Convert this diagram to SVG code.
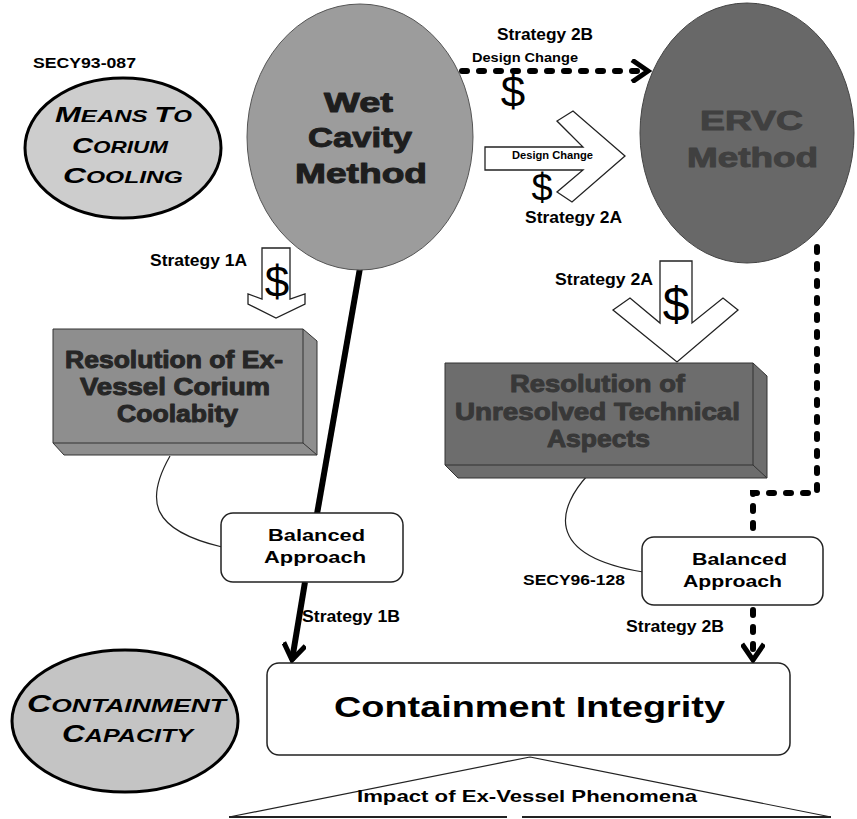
<svg xmlns="http://www.w3.org/2000/svg" width="857" height="819" viewBox="0 0 857 819">
<style>
text{font-family:"Liberation Sans",Arial,sans-serif;font-weight:bold;fill:#000}
.lbl{font-size:16px}
.sm{font-size:14px}
.dol{font-weight:normal;text-anchor:middle}
.caps{font-style:italic}
.heavy{stroke-width:1;stroke-linejoin:round}
.box{fill:#fff;stroke:#222;stroke-width:1.5}
.thin{fill:none;stroke:#222;stroke-width:1.2}
.solid{fill:none;stroke:#000;stroke-width:6}
.dash{fill:none;stroke:#000;stroke-width:6;stroke-linecap:round;stroke-dasharray:5 12}
.blk{fill:#fff;stroke:#222;stroke-width:1.3;stroke-linejoin:miter}
</style>
<defs>
<marker id="chev" viewBox="0 0 24 24" refX="20" refY="12" markerWidth="24" markerHeight="24" markerUnits="userSpaceOnUse" orient="auto">
<path d="M4,1 L20,12 L4,23" fill="none" stroke="#000" stroke-width="5" stroke-linejoin="miter"/>
</marker>
</defs>

<g id="connectors">
<path class="solid" d="M360,268 L317,514"/>
<path class="solid" d="M305,582 L292,660" marker-end="url(#chev)"/>
<path class="dash" d="M462,71 L648,71" stroke-width="7" stroke-dasharray="6 19" marker-end="url(#chev)"/>
<path class="dash" d="M817,247 L817,493 L753,493 L753,537"/>
<path class="dash" d="M753,610 L753,660" marker-end="url(#chev)"/>
<path class="thin" d="M170,456 C145,500 150,530 222,547"/>
<path class="thin" d="M588,475 C560,505 540,555 643,572"/>
<path class="thin" d="M530,757 L229,817 M530,757 L831,817"/>
<path d="M229,817 L507,817 M522,817 L831,817" fill="none" stroke="#222" stroke-width="2"/>
</g>

<g id="secy93">
<text class="sm" x="33" y="68" textLength="103" lengthAdjust="spacingAndGlyphs">SECY93-087</text>
</g>

<g id="means">
<ellipse cx="123" cy="148" rx="98" ry="70" fill="#cdcdcd" stroke="#000" stroke-width="3"/>
<text class="caps" x="55" y="122" textLength="137" lengthAdjust="spacingAndGlyphs"><tspan font-size="22">M</tspan><tspan font-size="17">EANS </tspan><tspan font-size="22">T</tspan><tspan font-size="17">O</tspan></text>
<text class="caps" x="72" y="153" textLength="96" lengthAdjust="spacingAndGlyphs"><tspan font-size="22">C</tspan><tspan font-size="17">ORIUM</tspan></text>
<text class="caps" x="63" y="183" textLength="120" lengthAdjust="spacingAndGlyphs"><tspan font-size="22">C</tspan><tspan font-size="17">OOLING</tspan></text>
</g>

<g id="wet">
<ellipse cx="360" cy="137" rx="113" ry="133" fill="#9c9c9c" stroke="#555" stroke-width="1"/>
<g style="font-size:28px">
<text class="heavy" x="324" y="112" textLength="69" lengthAdjust="spacingAndGlyphs" style="fill:#1e1e1e;stroke:#1e1e1e">Wet</text>
<text class="heavy" x="308" y="147" textLength="104" lengthAdjust="spacingAndGlyphs" style="fill:#1e1e1e;stroke:#1e1e1e">Cavity</text>
<text class="heavy" x="295" y="183" textLength="132" lengthAdjust="spacingAndGlyphs" style="fill:#1e1e1e;stroke:#1e1e1e">Method</text>
</g>
</g>

<g id="ervc">
<ellipse cx="747" cy="133" rx="107" ry="130" fill="#686868" stroke="#444" stroke-width="1"/>
<g style="font-size:28px">
<text class="heavy" x="700" y="130" textLength="103" lengthAdjust="spacingAndGlyphs" style="fill:#404040;stroke:#404040">ERVC</text>
<text class="heavy" x="687" y="167" textLength="131" lengthAdjust="spacingAndGlyphs" style="fill:#404040;stroke:#404040">Method</text>
</g>
</g>

<g id="strategy2b-top">
<text class="lbl" x="497" y="40" textLength="96" lengthAdjust="spacingAndGlyphs">Strategy 2B</text>
<text x="472" y="62" font-size="13" textLength="106" lengthAdjust="spacingAndGlyphs">Design Change</text>
<text class="dol" x="513" y="107" font-size="44">$</text>
</g>

<g id="strategy2a-right">
<polygon class="blk" points="485,147 583,147 557,121 573,111 625,156 572,202 557,192 583,170 485,170"/>
<text x="512" y="159" font-size="11" textLength="81" lengthAdjust="spacingAndGlyphs">Design Change</text>
<text class="dol" x="542" y="201" font-size="38">$</text>
<text class="lbl" x="525" y="223" textLength="97" lengthAdjust="spacingAndGlyphs">Strategy 2A</text>
</g>

<g id="strategy1a">
<polygon class="blk" points="262,248 290,248 290,299 305,294 305,304 276,318 248,304 248,294 262,299"/>
<text class="dol" x="277" y="297" font-size="44">$</text>
<text class="lbl" x="150" y="266" textLength="97" lengthAdjust="spacingAndGlyphs">Strategy 1A</text>
</g>

<g id="strategy2a-down">
<polygon class="blk" points="660,261 692,261 692,323 723,298 738,310 677,362 613,310 630,298 660,323"/>
<text class="dol" x="676" y="321" font-size="48">$</text>
<text class="lbl" x="555" y="285" textLength="98" lengthAdjust="spacingAndGlyphs">Strategy 2A</text>
</g>

<g id="res1">
<polygon points="53,329 303,329 317,341 317,455 64,455 53,443" fill="#8e8e8e" stroke="#333" stroke-width="1"/>
<path d="M303,329 L303,443 L53,443 M303,443 L317,455" fill="none" stroke="#333" stroke-width="1"/>
<g style="font-size:24px">
<text class="heavy" x="65" y="368" textLength="218" lengthAdjust="spacingAndGlyphs" style="fill:#262626;stroke:#262626">Resolution of Ex-</text>
<text class="heavy" x="80" y="395" textLength="190" lengthAdjust="spacingAndGlyphs" style="fill:#262626;stroke:#262626">Vessel Corium</text>
<text class="heavy" x="117" y="422" textLength="121" lengthAdjust="spacingAndGlyphs" style="fill:#262626;stroke:#262626">Coolabity</text>
</g>
</g>

<g id="res2">
<polygon points="445,363 753,363 767,376 767,478 458,478 445,465" fill="#6d6d6d" stroke="#333" stroke-width="1"/>
<path d="M753,363 L753,465 L445,465 M753,465 L767,478" fill="none" stroke="#333" stroke-width="1"/>
<g style="font-size:24px">
<text class="heavy" x="510" y="392" textLength="175" lengthAdjust="spacingAndGlyphs" style="fill:#383838;stroke:#383838">Resolution of</text>
<text class="heavy" x="455" y="420" textLength="285" lengthAdjust="spacingAndGlyphs" style="fill:#383838;stroke:#383838">Unresolved Technical</text>
<text class="heavy" x="547" y="447" textLength="103" lengthAdjust="spacingAndGlyphs" style="fill:#383838;stroke:#383838">Aspects</text>
</g>
</g>

<g id="balanced1">
<rect class="box" x="221" y="513" width="182" height="69" rx="12"/>
<text class="lbl" x="268" y="541" textLength="97" lengthAdjust="spacingAndGlyphs">Balanced</text>
<text class="lbl" x="264" y="563" textLength="102" lengthAdjust="spacingAndGlyphs">Approach</text>
</g>

<g id="balanced2">
<rect class="box" x="642" y="537" width="181" height="68" rx="12"/>
<text class="lbl" x="692" y="565" textLength="95" lengthAdjust="spacingAndGlyphs">Balanced</text>
<text class="lbl" x="683" y="587" textLength="99" lengthAdjust="spacingAndGlyphs">Approach</text>
</g>

<g id="labels-lower">
<text class="sm" x="523" y="585" textLength="102" lengthAdjust="spacingAndGlyphs">SECY96-128</text>
<text class="lbl" x="302" y="622" textLength="98" lengthAdjust="spacingAndGlyphs">Strategy 1B</text>
<text class="lbl" x="626" y="632" textLength="98" lengthAdjust="spacingAndGlyphs">Strategy 2B</text>
</g>

<g id="containment-integrity">
<rect class="box" x="267" y="663" width="523" height="92" rx="12"/>
<text x="334" y="717" font-size="30" textLength="391" lengthAdjust="spacingAndGlyphs">Containment Integrity</text>
</g>

<g id="containment-capacity">
<ellipse cx="125" cy="721" rx="113" ry="71" fill="#c4c4c4" stroke="#000" stroke-width="3"/>
<text class="caps" x="27" y="712" textLength="199" lengthAdjust="spacingAndGlyphs"><tspan font-size="24">C</tspan><tspan font-size="19">ONTAINMENT</tspan></text>
<text class="caps" x="62" y="742" textLength="131" lengthAdjust="spacingAndGlyphs"><tspan font-size="24">C</tspan><tspan font-size="19">APACITY</tspan></text>
</g>

<g id="impact">
<text x="357" y="802" font-size="17" textLength="340" lengthAdjust="spacingAndGlyphs">Impact of Ex-Vessel Phenomena</text>
</g>
</svg>
